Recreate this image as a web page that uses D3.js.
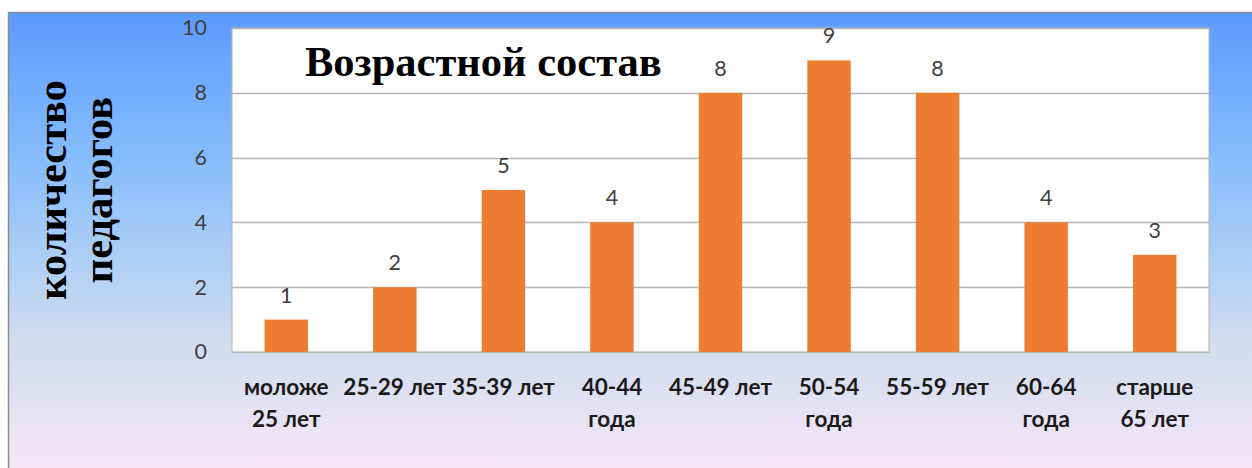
<!DOCTYPE html>
<html>
<head>
<meta charset="utf-8">
<script src="https://cdn.jsdelivr.net/npm/d3@7"></script>
<style>
  html, body { margin: 0; padding: 0; background: #fff; }
  svg { display: block; }
</style>
</head>
<body>
<div id="chart"></div>
<script>
const categories = ['моложе 25 лет', '25-29 лет', '35-39 лет', '40-44 года', '45-49 лет', '50-54 года', '55-59 лет', '60-64 года', 'старше 65 лет']
const labelLines = [['моложе', '25 лет'], ['25-29 лет'], ['35-39 лет'], ['40-44', 'года'], ['45-49 лет'], ['50-54', 'года'], ['55-59 лет'], ['60-64', 'года'], ['старше', '65 лет']]
const values = [1, 2, 5, 4, 8, 9, 8, 4, 3]
const yTicks = [0, 2, 4, 6, 8, 10]
const title = 'Возрастной состав'
const yTitle = ['количество', 'педагогов']

const width = 1252
const height = 468
const padding = { top: 28, right: 43, bottom: 116, left: 232 }

const svg = d3.select('#chart').append('svg')
    .attr('width', width)
    .attr('height', height)

// background gradient of the frame
const grad = svg.append('defs').append('linearGradient')
    .attr('id', 'bg')
    .attr('x1', 0).attr('y1', 0).attr('x2', 0).attr('y2', 1)
grad.append('stop').attr('offset', '0%').attr('stop-color', '#5b9bff')
grad.append('stop').attr('offset', '35%').attr('stop-color', '#8cc0fb')
grad.append('stop').attr('offset', '70%').attr('stop-color', '#cfdcef')
grad.append('stop').attr('offset', '100%').attr('stop-color', '#fae8f8')

svg.append('rect')
    .attr('x', 8.5).attr('y', 12.5)
    .attr('width', width).attr('height', height)
    .attr('fill', 'url(#bg)')
    .attr('stroke', '#8c8c8c')
    .attr('stroke-width', 1.5)

const x = d3.scaleBand()
    .domain(categories)
    .range([padding.left, width - padding.right])
    .paddingInner(0.6)
    .paddingOuter(0.3)

const y = d3.scaleLinear()
    .domain([0, 10])
    .range([height - padding.bottom, padding.top])

// plot area
svg.append('rect')
    .attr('x', padding.left)
    .attr('y', padding.top)
    .attr('width', width - padding.left - padding.right)
    .attr('height', height - padding.top - padding.bottom)
    .attr('fill', '#fff')
    .attr('stroke', '#b4b4b4')

svg.append('g')
    .selectAll('line')
    .data(yTicks)
    .enter()
    .append('line')
    .attr('x1', padding.left)
    .attr('x2', width - padding.right)
    .attr('y1', d => Math.round(y(d)) + 0.5)
    .attr('y2', d => Math.round(y(d)) + 0.5)
    .attr('stroke', '#b4b4b4')
    .attr('stroke-width', 1.5)

const yAxis = svg.append('g')
    .attr('transform', `translate(${padding.left},0)`)
    .call(d3.axisLeft(y).tickValues(yTicks).tickSize(0).tickPadding(25))
yAxis.select('.domain').remove()
yAxis.selectAll('text')
    .attr('font-family', 'Lato, "Open Sans", sans-serif')
    .attr('font-size', 21.5)
    .attr('fill', '#404040')

// bars
svg.append('g')
    .selectAll('rect')
    .data(values)
    .enter()
    .append('rect')
    .attr('x', (d, i) => x(categories[i]))
    .attr('y', d => y(d))
    .attr('width', x.bandwidth())
    .attr('height', d => y(0) - y(d))
    .attr('fill', '#ed7d31')

// value labels
svg.append('g')
    .selectAll('text')
    .data(values)
    .enter()
    .append('text')
    .attr('x', (d, i) => x(categories[i]) + x.bandwidth() / 2)
    .attr('y', d => y(d) - 17)
    .attr('text-anchor', 'middle')
    .attr('font-family', 'Lato, "Open Sans", sans-serif')
    .attr('font-size', 21.5)
    .attr('fill', '#404040')
    .text(d => d)

// category labels
const xl = svg.append('g')
    .selectAll('text')
    .data(categories)
    .enter()
    .append('text')
    .attr('x', d => x(d) + x.bandwidth() / 2)
    .attr('y', 395)
    .attr('text-anchor', 'middle')
    .attr('font-family', 'Lato, "Open Sans", sans-serif')
    .attr('font-weight', 'bold')
    .attr('font-size', 22.5)
    .attr('fill', '#1a1a1a')
xl.selectAll('tspan')
    .data((d, i) => labelLines[i])
    .enter()
    .append('tspan')
    .attr('x', function () { return this.parentNode.getAttribute('x') })
    .attr('dy', (d, i) => i === 0 ? 0 : 32)
    .text(d => d)

// chart title
svg.append('text')
    .attr('x', 305)
    .attr('y', 76)
    .attr('font-family', '"Liberation Serif", "Times New Roman", serif')
    .attr('font-weight', 'bold')
    .attr('font-size', 42.5)
    .attr('fill', '#000')
    .text(title)

// y axis title
const yt = svg.append('text')
    .attr('transform', 'translate(0,190) rotate(-90)')
    .attr('text-anchor', 'middle')
    .attr('font-family', '"Liberation Serif", "Times New Roman", serif')
    .attr('font-weight', 'bold')
    .attr('font-size', 42.5)
    .attr('fill', '#000')
yt.selectAll('tspan')
    .data(yTitle)
    .enter()
    .append('tspan')
    .attr('x', 0)
    .attr('y', (d, i) => 66 + i * 46)
    .text(d => d)
</script>
</body>
</html>
